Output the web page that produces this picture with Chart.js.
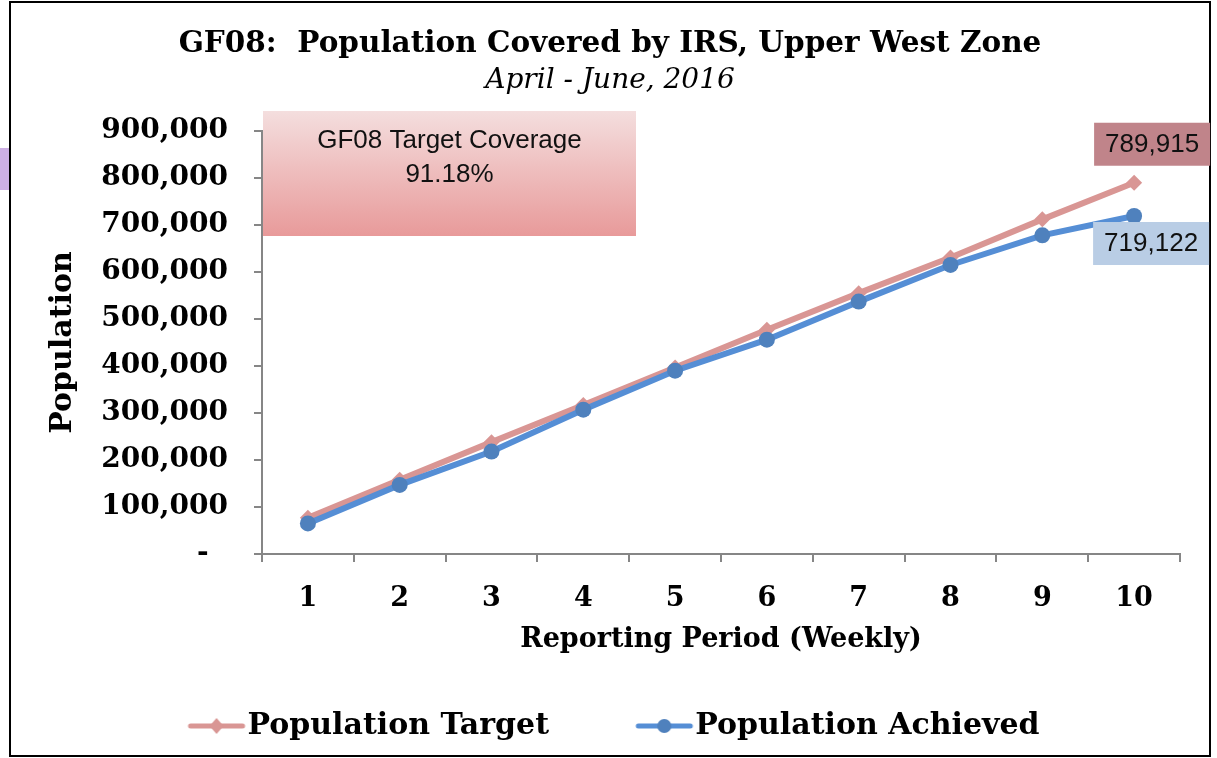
<!DOCTYPE html>
<html>
<head>
<meta charset="utf-8">
<title>GF08 Population Covered by IRS</title>
<script src="https://cdn.jsdelivr.net/npm/chart.js@4"></script>
<style>
  html, body { margin:0; padding:0; background:#fff; }
  #wrap { position:relative; width:1217px; height:758px; }
</style>
</head>
<body>
<div id="wrap"><canvas id="chart" width="1217" height="758"></canvas></div>
<script>
// --- data --------------------------------------------------------------
const weeks = ['1', '2', '3', '4', '5', '6', '7', '8', '9', '10'];
const populationTarget   = [77000, 158000, 238000, 317000, 397000, 477000, 555000, 631000, 712000, 789915];
const populationAchieved = [65000, 147000, 218000, 307000, 390000, 456000, 537000, 615000, 678000, 719122];
const yTicks = [0, 100000, 200000, 300000, 400000, 500000, 600000, 700000, 800000, 900000];
const coverageText = ['GF08 Target Coverage', '91.18%'];

const PINK = '#d99694';
const BLUE = '#558ed5';
const BLUE_DOT = '#4f81bd';
const SERIF = "'DejaVu Serif', serif";
const SANS = "'Liberation Sans', Arial, sans-serif";

// legend marker = short line with the series marker on it
// (image is centred on the legend box, line sits a bit to the right of it)
function legendMarker(color, markColor, shape) {
  const c = document.createElement('canvas');
  c.width = 80; c.height = 20;
  const g = c.getContext('2d');
  g.strokeStyle = color; g.lineWidth = 5; g.lineCap = 'round';
  g.beginPath(); g.moveTo(24, 10); g.lineTo(76, 10); g.stroke();
  g.fillStyle = markColor;
  g.beginPath();
  const mx = 50;
  if (shape === 'diamond') {
    g.moveTo(mx, 2); g.lineTo(mx + 7, 10); g.lineTo(mx, 18); g.lineTo(mx - 7, 10);
  } else {
    g.arc(mx, 10, 7, 0, Math.PI * 2);
  }
  g.closePath(); g.fill();
  return c;
}

// frame, left clipped box, coverage box and the two value labels
const extras = {
  id: 'extras',
  afterDraw(chart) {
    const ctx = chart.ctx;
    const area = chart.chartArea;
    ctx.save();

    // clipped lavender box at the left edge
    ctx.fillStyle = '#cdb0e4';
    ctx.fillRect(0, 148, 9, 42);

    // outer frame
    ctx.strokeStyle = '#000';
    ctx.lineWidth = 2;
    ctx.strokeRect(10, 2, 1200, 754);

    // coverage text box
    const bx = area.left + 1, by = area.top - 20, bw = 373, bh = 125;
    const grad = ctx.createLinearGradient(0, by, 0, by + bh);
    grad.addColorStop(0, '#f4dede');
    grad.addColorStop(1, '#e89a9a');
    ctx.fillStyle = grad;
    ctx.fillRect(bx, by, bw, bh);
    ctx.fillStyle = '#111';
    ctx.font = '26px ' + SANS;
    ctx.textAlign = 'center';
    ctx.textBaseline = 'middle';
    ctx.fillText(coverageText[0], bx + bw / 2, by + 30);
    ctx.fillText(coverageText[1], bx + bw / 2, by + 64);

    // end-value labels, anchored on the last points
    const labels = [
      { ds: 0, dx: 18, dy: -39, fill: '#c0848a' },
      { ds: 1, dx: 17, dy: 27, fill: '#b9cde5' }
    ];
    labels.forEach(l => {
      const meta = chart.getDatasetMeta(l.ds);
      const pt = meta.data[meta.data.length - 1];
      const vals = chart.data.datasets[l.ds].data;
      const txt = vals[vals.length - 1].toLocaleString('en-US');
      const cx = pt.x + l.dx, cy = pt.y + l.dy;
      ctx.fillStyle = l.fill;
      ctx.fillRect(cx - 58, cy - 21, 116, 43);
      ctx.fillStyle = '#111';
      ctx.font = '26px ' + SANS;
      ctx.fillText(txt, cx, cy + 1);
    });
    ctx.restore();
  }
};

const markers = [
  legendMarker(PINK, PINK, 'diamond'),
  legendMarker(BLUE, BLUE_DOT, 'circle')
];

new Chart(document.getElementById('chart'), {
  type: 'line',
  data: {
    labels: weeks,
    datasets: [
      {
        label: 'Population Target',
        data: populationTarget,
        borderColor: PINK,
        backgroundColor: PINK,
        borderWidth: 6,
        pointStyle: 'rectRot',
        pointRadius: 8,
        pointBorderWidth: 0,
        order: 2
      },
      {
        label: 'Population Achieved',
        data: populationAchieved,
        borderColor: BLUE,
        backgroundColor: BLUE_DOT,
        borderWidth: 6,
        pointStyle: 'circle',
        pointRadius: 8,
        pointBorderWidth: 0,
        order: 1
      }
    ]
  },
  options: {
    responsive: false,
    animation: false,
    layout: { padding: { left: 40, right: 37, top: 27, bottom: 7 } },
    plugins: {
      tooltip: { enabled: false },
      title: {
        display: true,
        text: 'GF08:  Population Covered by IRS, Upper West Zone',
        color: '#000',
        font: { family: SERIF, size: 29.5, weight: 'bold' },
        padding: { top: 0, bottom: 2 }
      },
      subtitle: {
        display: true,
        text: 'April - June, 2016',
        color: '#000',
        font: { family: SERIF, size: 28, style: 'italic' },
        padding: { top: 0, bottom: 33 }
      },
      legend: {
        position: 'bottom',
        labels: {
          usePointStyle: true,
          pointStyleWidth: 52,
          padding: 27,
          color: '#000',
          font: { family: SERIF, size: 30, weight: 'bold' },
          generateLabels(chart) {
            // wider gap after the first entry, as in the original
            return chart.data.datasets.map((ds, i) => ({
              text: ds.label + (i === 0 ? '\u00a0\u00a0\u00a0\u00a0\u00a0' : ''),
              pointStyle: markers[i],
              datasetIndex: i,
              hidden: false,
              fontColor: '#000',
              lineWidth: 0,
              strokeStyle: 'transparent',
              fillStyle: 'transparent'
            }));
          }
        }
      }
    },
    scales: {
      x: {
        offset: true,
        grid: { offset: true, drawOnChartArea: false, drawTicks: true, tickLength: 8, color: '#868686', lineWidth: 2 },
        border: { color: '#868686', width: 2 },
        ticks: { color: '#000', padding: 21, font: { family: SERIF, size: 27, weight: 'bold' } },
        title: {
          display: true,
          text: 'Reporting Period (Weekly)',
          color: '#000',
          font: { family: SERIF, size: 27, weight: 'bold' },
          padding: { top: 4, bottom: 28 }
        },
        afterFit(s) { s.height = 130; }
      },
      y: {
        min: 0,
        max: 900000,
        afterBuildTicks(s) { s.ticks = yTicks.map(v => ({ value: v })); },
        grid: { drawOnChartArea: false, drawTicks: true, tickLength: 8, color: '#868686', lineWidth: 2 },
        border: { color: '#868686', width: 2 },
        ticks: {
          color: '#000',
          padding: 26,
          font: { family: SERIF, size: 28, weight: 'bold' },
          callback: v => v === 0 ? '-  ' : v.toLocaleString('en-US')
        },
        title: {
          display: true,
          text: 'Population',
          color: '#000',
          font: { family: SERIF, size: 30, weight: 'bold' },
          padding: { top: 5, bottom: 0 }
        },
        afterFit(s) { s.width = 222; }
      }
    }
  },
  plugins: [extras]
});
</script>
</body>
</html>
